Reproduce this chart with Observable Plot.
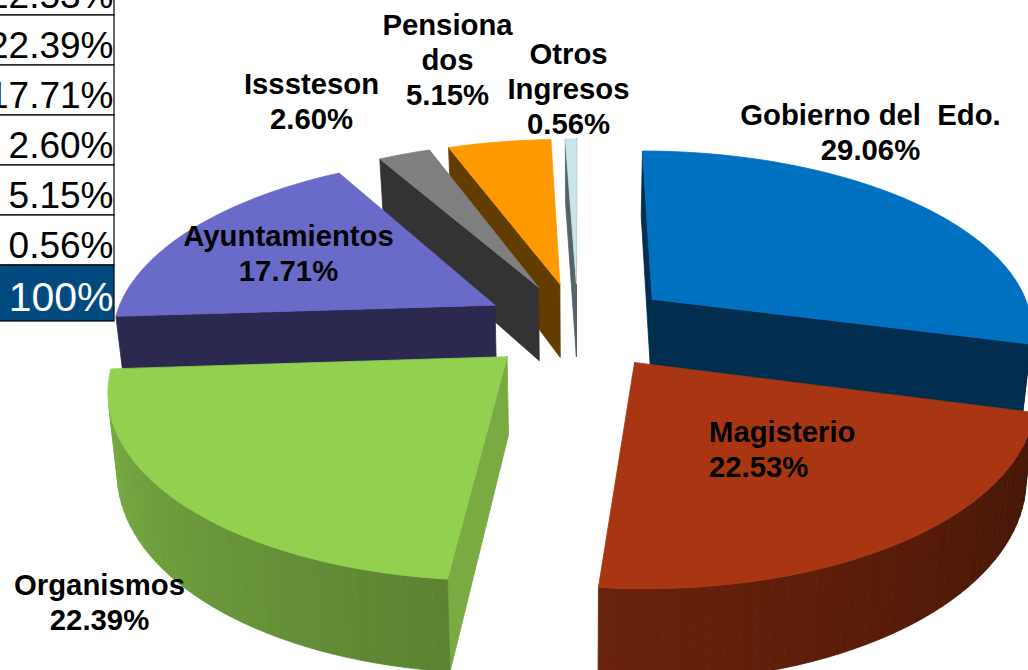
<!DOCTYPE html>
<html>
<head>
<meta charset="utf-8">
<script src="https://cdn.jsdelivr.net/npm/d3@7"></script>
<script src="https://cdn.jsdelivr.net/npm/@observablehq/plot@0.6"></script>
<style>
  html, body { margin: 0; padding: 0; background: #fff; overflow: hidden; }
  svg { display: block; }
</style>
</head>
<body>
<div id="chart"></div>
<script>
// ---- Data ----
const categories = ["Gobierno del \u00a0Edo.", "Magisterio", "Organismos", "Ayuntamientos", "Isssteson", "Pensiona\ndos", "Otros\nIngresos"];
const shares = [29.06, 22.53, 22.39, 17.71, 2.60, 5.15, 0.56];
const tableRows = ["22.53%", "22.39%", "17.71%", "2.60%", "5.15%", "0.56%", "100%"];

// ---- Styles and layout ----
const topColors = ["#0070c0", "#a93612", "#92d050", "#6a6ac9", "#7f7f7f", "#ff9900", "#c9e5ea"];
const faceColors = ["#012d4e", "#43150a", "#7aab43", "#2c2950", "#333333", "#633c00", "#566264"];
const labelX = [870, 708.5, 99, 288, 311, 447, 568];
const labelBase = [159.5, 476.5, 629.5, 280.5, 128.5, 104.5, 133.5];
const paintOrder = [0, 6, 5, 4, 3, 2, 1];
const W = 1028, H = 670;
const cx = 577.5, cy = 325, rx = 382, ry = 178.6, persp = 0.154, explode = 0.245, explodeX = 1.025, depth = 76, bottomScale = 0.98;

// ---- Exploded 3D pie projection built from the shares ----
const total = d3.sum(shares);
const top3d = (U, V) => {
  const s = 1 / (1 - persp * V);
  return [cx + rx * U * s, cy + ry * V * s];
};
const bottom3d = (U, V) => {
  const s = 1 / (1 - persp * V);
  return [cx + rx * U * s * bottomScale, cy + ry * V * s + depth * s];
};
const rad = d => d * Math.PI / 180;
const polygons = [];
let nextId = 0;
const addPolygon = (pts, color) => {
  const id = nextId++;
  [...pts, pts[0]].forEach(([x, y]) => polygons.push({id, x, y, color}));
};
const isFront = (p, q, q2, p2) =>
  ((p[0] * q[1] - q[0] * p[1]) + (q[0] * q2[1] - q2[0] * q[1]) + (q2[0] * p2[1] - p2[0] * q2[1]) + (p2[0] * p[1] - p[0] * p2[1])) < 0;

let acc = 0;
const slices = shares.map((v, i) => {
  const a0 = acc / total * 360;
  acc += v;
  return {i, a0, a1: acc / total * 360};
});

for (const k of paintOrder) {
  const {i, a0, a1} = slices[k];
  const mid = rad((a0 + a1) / 2);
  const ou = explode * explodeX * Math.sin(mid), ov = -explode * Math.cos(mid);
  const n = Math.max(2, Math.ceil((a1 - a0) / 2));
  const angles = d3.range(n + 1).map(j => a0 + (a1 - a0) * j / n);
  const rim = angles.map(a => [ou + Math.sin(rad(a)), ov - Math.cos(rad(a))]);
  const apex = [ou, ov];
  const T = p => top3d(p[0], p[1]);
  const B = p => bottom3d(p[0], p[1]);

  // radial faces
  const faces = [[apex, rim[0]], [rim[n], apex]];
  for (const [p, q] of faces) {
    const quad = [T(p), T(q), B(q), B(p)];
    if (isFront(...quad)) addPolygon(quad, faceColors[i]);
  }
  // outer wall, shaded along the arc
  const base = d3.rgb(topColors[i]);
  for (let j = 0; j < n; j++) {
    const quad = [T(rim[j]), T(rim[j + 1]), B(rim[j + 1]), B(rim[j])];
    if (!isFront(...quad)) continue;
    const a = (angles[j] + angles[j + 1]) / 2;
    const f = 0.40 + (a - 105) / (266 - 105) * 0.45;
    addPolygon(quad, d3.rgb(base.r * f, base.g * f, base.b * f).formatHex());
  }
  // top surface
  addPolygon([T(apex), ...rim.map(T)], topColors[i]);
}

// ---- Table fragment on the left ----
const rowTop = -35, rowH = 50;
const tableData = tableRows.map((t, i) => {
  const last = i === tableRows.length - 1;
  return {
    t, last,
    y1: rowTop + i * rowH,
    y2: rowTop + (i + 1) * rowH + (last ? 6 : 0),
    base: (last ? 310 : 7 + i * rowH)
  };
});

const labels = categories.map((c, i) => ({
  text: `${c}\n${shares[i].toFixed(2)}%`,
  x: labelX[i],
  y: labelBase[i],
  start: i === 1
}));

const labelStyle = {
  x: "x", y: "y", text: "text",
  fontFamily: "Liberation Sans", fontWeight: "bold", fontSize: 29.3,
  lineHeight: 1.2, lineAnchor: "bottom", fill: "#000"
};

const chart = Plot.plot({
  width: W, height: H, margin: 0,
  style: {background: "transparent"},
  x: {domain: [0, W], range: [0, W], axis: null},
  y: {domain: [0, H], range: [0, H], axis: null},
  color: {type: "identity"},
  marks: [
    Plot.line(polygons, {x: "x", y: "y", z: "id", fill: "color", stroke: "color", strokeWidth: 0.8}),
    Plot.rect(tableData, {x1: () => -5, x2: () => 114, y1: "y1", y2: "y2", fill: d => d.last ? "#004a80" : "#ffffff", stroke: "#000", strokeWidth: 1.2, inset: 0}),
    Plot.text(tableData, {x: () => 113, y: "base", text: "t", textAnchor: "end", lineAnchor: "bottom",
      fontFamily: "Liberation Sans", fontSize: d => d.last ? 41 : 37, fill: d => d.last ? "#fff" : "#000"}),
    Plot.text(labels.filter(d => !d.start), {...labelStyle, textAnchor: "middle"}),
    Plot.text(labels.filter(d => d.start), {...labelStyle, textAnchor: "start"})
  ]
});
document.getElementById("chart").appendChild(chart);
</script>
</body>
</html>
